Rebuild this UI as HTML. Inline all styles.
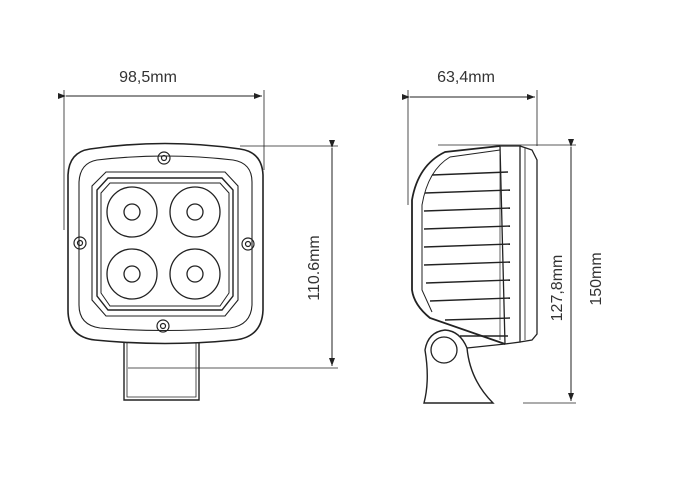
<!DOCTYPE html>
<html><head><style>
html,body{margin:0;padding:0;background:#fff;}
svg{display:block;}
text{font-family:"Liberation Sans",sans-serif;font-size:16px;fill:#333;}
</style></head><body>
<svg width="674" height="482" viewBox="0 0 674 482" xmlns="http://www.w3.org/2000/svg">
<defs>
<marker id="a" markerWidth="8" markerHeight="6" refX="8" refY="3" orient="auto" markerUnits="userSpaceOnUse"><path d="M0,0 L8,3 L0,6 Z" fill="#222"/></marker>
</defs>
<g stroke="#222" fill="none" stroke-width="1">
<line x1="64" y1="90" x2="64" y2="230" stroke-width="0.8"/>
<line x1="264" y1="90" x2="264" y2="170" stroke-width="0.8"/>
<line x1="66" y1="96" x2="262" y2="96" marker-end="url(#a)" marker-start="url(#a)"/>
<line x1="240" y1="146" x2="338" y2="146" stroke-width="0.8"/>
<line x1="128" y1="368" x2="338" y2="368" stroke-width="0.8"/>
<line x1="332" y1="148" x2="332" y2="366" marker-end="url(#a)" marker-start="url(#a)"/>
<path d="M90,149 Q165,138 240,149 Q262,152 263,175 L263,310 Q262,337 235,340 Q165,347 95,340 Q68,337 68,310 L68,175 Q69,152 90,149 Z" stroke-width="1.6"/>
<path d="M97,160 Q165,152 233,160 Q252,163 252,182 L252,305 Q251,325 230,328 Q165,333 100,328 Q79,325 79,305 L79,182 Q80,163 97,160 Z" stroke-width="1.1"/>
<path d="M106,172 L225,172 L238,186 L238,300 L225,316 L106,316 L92,300 L92,186 Z" stroke-width="1.1"/>
<path d="M108,178 L222,178 L233,190 L233,296 L222,310 L108,310 L97,296 L97,190 Z" stroke-width="1.4"/>
<path d="M110,183 L220,183 L229,193 L229,293 L220,306 L110,306 L101,293 L101,193 Z" stroke-width="1"/>
<g stroke-width="1.3">
<circle cx="132" cy="212" r="25"/><circle cx="132" cy="212" r="8"/>
<circle cx="195" cy="212" r="25"/><circle cx="195" cy="212" r="8"/>
<circle cx="132" cy="274" r="25"/><circle cx="132" cy="274" r="8"/>
<circle cx="195" cy="274" r="25"/><circle cx="195" cy="274" r="8"/>
</g>
<g stroke-width="1.2">
<circle cx="164" cy="158" r="6"/><circle cx="164" cy="158" r="2.5"/>
<circle cx="80" cy="243" r="6"/><circle cx="80" cy="243" r="2.5"/>
<circle cx="248" cy="244" r="6"/><circle cx="248" cy="244" r="2.5"/>
<circle cx="163" cy="326" r="6"/><circle cx="163" cy="326" r="2.5"/>
</g>
<path d="M124,343 L124,400 L199,400 L199,343" stroke-width="1.4"/>
<path d="M127,343 L127,397 L196,397 L196,343" stroke-width="0.8"/>
<line x1="408" y1="90" x2="408" y2="205" stroke-width="0.8"/>
<line x1="537" y1="90" x2="537" y2="146" stroke-width="0.8"/>
<line x1="410" y1="97" x2="535" y2="97" marker-end="url(#a)" marker-start="url(#a)"/>
<line x1="438" y1="145" x2="576" y2="145" stroke-width="0.8"/>
<line x1="523" y1="403" x2="576" y2="403" stroke-width="0.8"/>
<line x1="571" y1="147" x2="571" y2="401" marker-end="url(#a)" marker-start="url(#a)"/>
<path d="M500,146 L445,152 Q418,165 412,200 L412,290 Q414,305 430,318 L505,344" stroke-width="1.8"/>
<path d="M500,150 L450,157 Q428,170 422,205 L422,290 L432,312" stroke-width="1"/>
<path d="M500,146 L520,146 L520,342 L505,344 Z" stroke-width="1.3"/>
<path d="M520,146 L532,150 L537,160 L537,334 L532,340 L520,342" stroke-width="1.3"/>
<line x1="525" y1="148" x2="525" y2="340" stroke-width="0.8"/>
<g stroke-width="1.4">
<line x1="432" y1="175" x2="508" y2="172"/>
<line x1="425" y1="193" x2="510" y2="190"/>
<line x1="424" y1="211" x2="510" y2="208"/>
<line x1="424" y1="229" x2="510" y2="226"/>
<line x1="424" y1="247" x2="510" y2="244"/>
<line x1="424" y1="265" x2="510" y2="262"/>
<line x1="426" y1="283" x2="510" y2="280"/>
<line x1="430" y1="301" x2="510" y2="298"/>
<line x1="445" y1="320" x2="510" y2="318"/>
<line x1="460" y1="336" x2="508" y2="336"/>
</g>
<line x1="500" y1="155" x2="500" y2="340" stroke-width="0.7"/>
<path d="M424,403 Q430,380 425,350 Q428,332 445,330 Q460,331 467,348 Q470,380 493,403 Z" stroke-width="1.4" fill="#fff"/>
<circle cx="444" cy="350" r="13" stroke-width="1.3"/>
<line x1="467" y1="348" x2="505" y2="344" stroke-width="1.2"/>
</g>
<text x="148" y="82" text-anchor="middle">98,5mm</text>
<text x="466" y="82" text-anchor="middle">63,4mm</text>
<text transform="translate(319,268) rotate(-90)" text-anchor="middle">110.6mm</text>
<text transform="translate(562,288) rotate(-90)" text-anchor="middle">127,8mm</text>
<text transform="translate(601,279) rotate(-90)" text-anchor="middle">150mm</text>
</svg>
</body></html>
